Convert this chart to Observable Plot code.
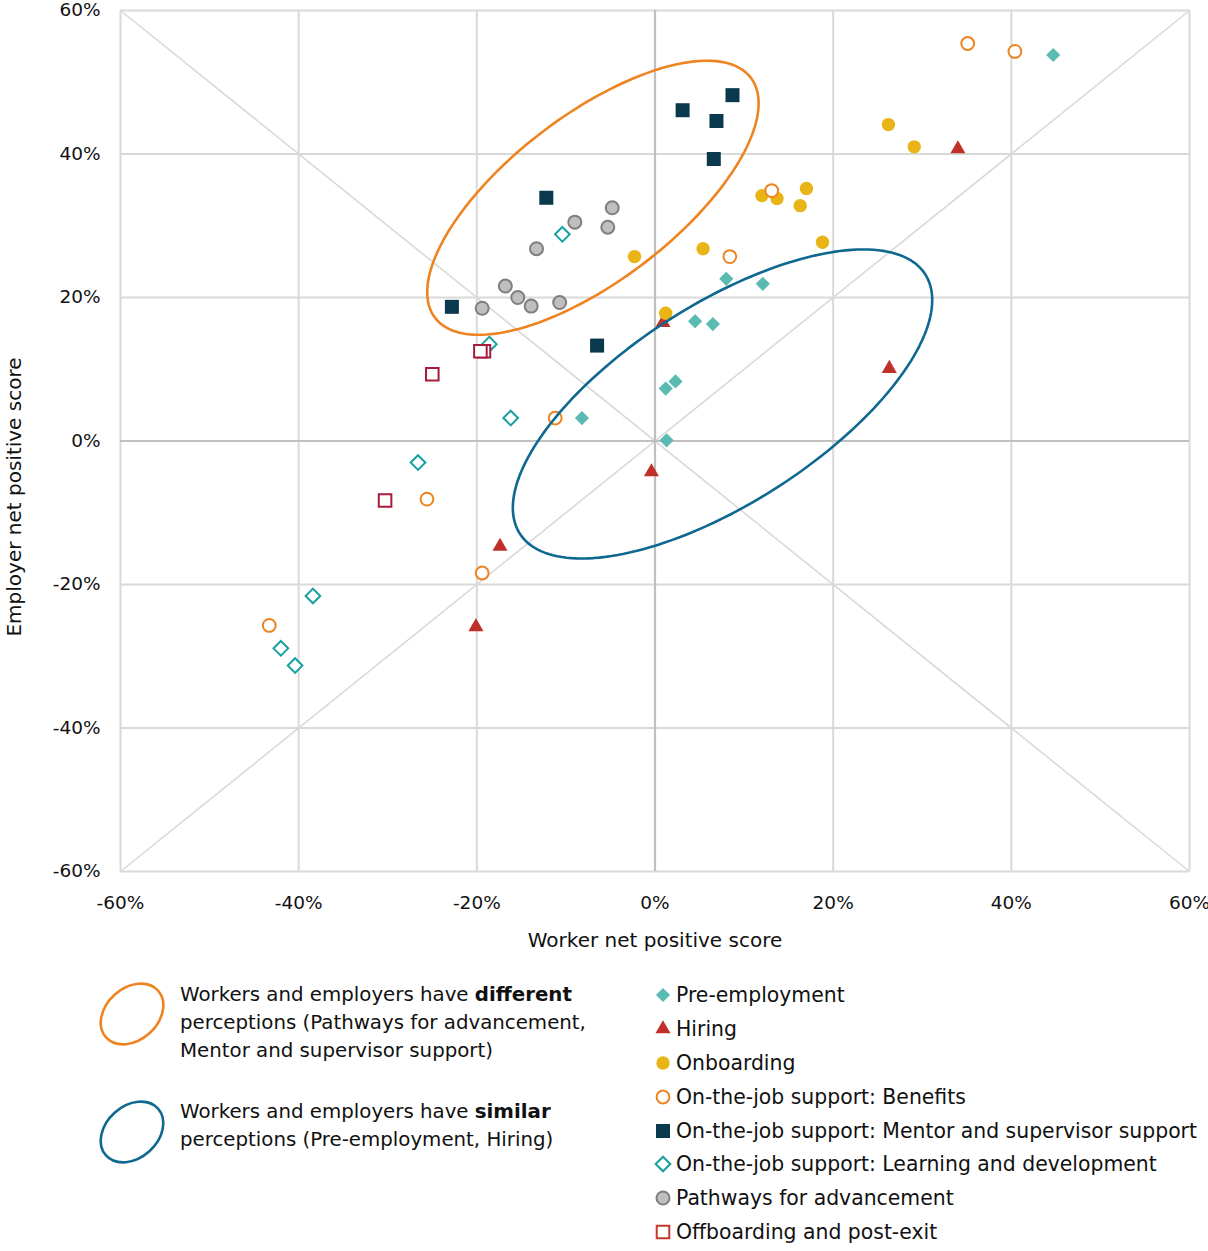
<!DOCTYPE html>
<html>
<head>
<meta charset="utf-8">
<script src="https://cdn.jsdelivr.net/npm/d3@7"></script>
<script src="https://cdn.jsdelivr.net/npm/@observablehq/plot@0.6"></script>
<style>
  html, body { margin: 0; padding: 0; background: #fff; }
  #wrap { position: relative; width: 1208px; height: 1251px; overflow: hidden; font-family: "DejaVu Sans", sans-serif; color: #111; }
  #chart { position: absolute; left: 0; top: 0; }
  .ltext { position: absolute; font-size: 19.8px; line-height: 28px; white-space: nowrap; }
  .row { position: absolute; left: 676px; font-size: 20.4px; height: 34px; line-height: 34px; white-space: nowrap; }
  .icon { position: absolute; overflow: visible; }
</style>
</head>
<body>
<div id="wrap">
  <div id="chart"></div>
  <div id="legend"></div>
</div>
<script>
// ---- Data (worker net positive %, employer net positive %) ----
const preEmployment = [[44.7,53.8],[8.0,22.6],[12.1,21.9],[4.5,16.7],[6.5,16.3],[2.3,8.3],[1.2,7.3],[1.3,0.1],[-8.2,3.2]];
const hiring        = [[34.0,40.7],[26.3,10.1],[0.9,16.5],[-0.4,-4.3],[-17.4,-14.7],[-20.1,-25.9]];
const onboarding    = [[26.2,44.1],[29.1,41.0],[12.0,34.2],[13.7,33.8],[17.0,35.2],[16.3,32.8],[18.8,27.7],[5.4,26.8],[-2.3,25.7],[1.2,17.8]];
const benefits      = [[35.1,55.4],[40.4,54.3],[13.1,34.9],[8.4,25.7],[-11.2,3.2],[-25.6,-8.1],[-19.4,-18.4],[-43.3,-25.7]];
const mentor        = [[8.7,48.2],[3.1,46.1],[6.9,44.6],[6.6,39.3],[-12.2,33.9],[-22.8,18.7],[-6.5,13.3]];
const learning      = [[-10.4,28.8],[-18.6,13.5],[-16.2,3.2],[-26.6,-3.0],[-38.4,-21.6],[-42.0,-28.9],[-40.4,-31.3]];
const pathways      = [[-4.8,32.5],[-9.0,30.5],[-5.3,29.8],[-13.3,26.8],[-16.8,21.6],[-15.4,20.0],[-13.9,18.8],[-10.7,19.3],[-19.4,18.5]];
const offboarding   = [[-19.2,12.5],[-19.6,12.5],[-25.0,9.3],[-30.3,-8.3]];

const categories = [
  "Pre-employment", "Hiring", "Onboarding", "On-the-job support: Benefits",
  "On-the-job support: Mentor and supervisor support",
  "On-the-job support: Learning and development",
  "Pathways for advancement", "Offboarding and post-exit"
];
const seriesValues = [preEmployment, hiring, onboarding, benefits, mentor, learning, pathways, offboarding];

const xTicks = [-60, -40, -20, 0, 20, 40, 60];
const yTicks = [-60, -40, -20, 0, 20, 40, 60];
const tickLabel = d => `${d}%`;
const xLabel = "Worker net positive score";
const yLabel = "Employer net positive score";

// Annotation ellipses (centre and affine axes, in data units)
const ellipseDifferent = {cx: -6.97, cy: 33.9, a: 18.6, b: 13.15, c: 13.85};
const ellipseSimilar   = {cx: 7.58, cy: 5.16, a: 23.54, b: 14.47, c: 15.95};

// ---- Styles ----
const styles = [
  {symbol: "diamond2", fill: "#5BBAB1", stroke: "none", sw: 0, r: 6.4},
  {symbol: "triangle", fill: "#C0302A", stroke: "none", sw: 0, r: 5.6},
  {symbol: "circle",   fill: "#E9B416", stroke: "none", sw: 0, r: 6.7},
  {symbol: "circle",   fill: "#ffffff", stroke: "#EE8421", sw: 2, r: 6.4},
  {symbol: "square",   fill: "#0A384C", stroke: "none", sw: 0, r: 7.9},
  {symbol: "diamond2", fill: "#ffffff", stroke: "#17A0A0", sw: 2, r: 6.6},
  {symbol: "circle",   fill: "#BFBFBF", stroke: "#7F7F7F", sw: 2, r: 6.5},
  {symbol: "square",   fill: "#ffffff", stroke: "#A81C3B", sw: 2, r: 7.1, legendStroke: "#C23A2C"}
];

const domain = [xTicks[0], xTicks[xTicks.length - 1]];
const diagonals = [
  {x1: domain[0], y1: domain[0], x2: domain[1], y2: domain[1]},
  {x1: domain[0], y1: domain[1], x2: domain[1], y2: domain[0]}
];

function ellipsePoints(e) {
  return d3.range(0, 2 * Math.PI, Math.PI / 90).map(t => ({
    x: e.cx + e.a * Math.cos(t),
    y: e.cy + e.b * Math.cos(t) + e.c * Math.sin(t)
  }));
}

const dotMarks = seriesValues.map((vals, i) => {
  const s = styles[i];
  return Plot.dot(vals, {
    x: d => d[0], y: d => d[1],
    symbol: s.symbol, r: s.r, fill: s.fill,
    stroke: s.stroke, strokeWidth: s.sw
  });
});

const chart = Plot.plot({
  width: 1208, height: 960,
  marginLeft: 120, marginRight: 19, marginTop: 10, marginBottom: 89,
  x: {domain, ticks: xTicks, tickFormat: tickLabel, tickSize: 0, tickPadding: 24, label: null},
  y: {domain, ticks: yTicks, tickFormat: tickLabel, tickSize: 0, tickPadding: 20, label: null},
  style: {fontFamily: "DejaVu Sans", fontSize: "18.5px", color: "#111", background: "#fff", overflow: "visible"},
  marks: [
    Plot.ruleX(xTicks.filter(d => d !== 0), {stroke: "#d9d9d9", strokeWidth: 2}),
    Plot.ruleY(yTicks.filter(d => d !== 0), {stroke: "#d9d9d9", strokeWidth: 2}),
    Plot.link(diagonals, {x1: "x1", y1: "y1", x2: "x2", y2: "y2", stroke: "#d9d9d9", strokeWidth: 1.6}),
    Plot.ruleX([0], {stroke: "#c0c0c0", strokeWidth: 2.2}),
    Plot.ruleY([0], {stroke: "#c0c0c0", strokeWidth: 2.2}),
    ...dotMarks,
    Plot.line(ellipsePoints(ellipseDifferent), {x: "x", y: "y", curve: "linear-closed", stroke: "#EE8421", strokeWidth: 2.6}),
    Plot.line(ellipsePoints(ellipseSimilar), {x: "x", y: "y", curve: "linear-closed", stroke: "#0E6890", strokeWidth: 2.6}),
    Plot.text([xLabel], {text: d => d, frameAnchor: "bottom", dy: 69, fontSize: 20, textAnchor: "middle", lineAnchor: "middle", fill: "#111"}),
    Plot.text([yLabel], {text: d => d, frameAnchor: "left", dx: -106, dy: 56, rotate: -90, fontSize: 20, textAnchor: "middle", lineAnchor: "middle", fill: "#111"})
  ]
});
document.getElementById("chart").appendChild(chart);

// ---- Legend ----
const legend = document.getElementById("legend");
const symMap = {diamond2: d3.symbolDiamond2, triangle: d3.symbolTriangle, circle: d3.symbolCircle, square: d3.symbolSquare};

function svgEl(w, h, left, top) {
  return d3.create("svg").attr("class", "icon").attr("width", w).attr("height", h)
    .style("left", left + "px").style("top", top + "px");
}

// Ellipse keys (left)
const ellipseKeys = [
  {stroke: "#EE8421", cy: 1013.5, lines: ["Workers and employers have <b>different</b>", "perceptions (Pathways for advancement,", "Mentor and supervisor support)"], textTop: 981},
  {stroke: "#0E6890", cy: 1131.5, lines: ["Workers and employers have <b>similar</b>", "perceptions (Pre-employment, Hiring)"], textTop: 1098}
];
ellipseKeys.forEach(k => {
  const svg = svgEl(80, 80, 92, k.cy - 40);
  svg.append("ellipse").attr("cx", 40).attr("cy", 40).attr("rx", 35).attr("ry", 26)
    .attr("transform", "rotate(-42 40 40)")
    .attr("fill", "none").attr("stroke", k.stroke).attr("stroke-width", 2.6);
  legend.appendChild(svg.node());
  const div = document.createElement("div");
  div.className = "ltext";
  div.style.left = "180px";
  div.style.top = k.textTop + "px";
  div.innerHTML = k.lines.join("<br>");
  legend.appendChild(div);
});

// Series keys (right)
categories.forEach((name, i) => {
  const s = styles[i];
  const cy = 995.3 + i * 33.8;
  const svg = svgEl(24, 24, 663 - 12, cy - 12);
  svg.append("path")
    .attr("transform", "translate(12,12)")
    .attr("d", d3.symbol(symMap[s.symbol], s.r * s.r * Math.PI)())
    .attr("fill", s.fill)
    .attr("stroke", s.legendStroke || s.stroke)
    .attr("stroke-width", s.sw);
  legend.appendChild(svg.node());
  const div = document.createElement("div");
  div.className = "row";
  div.style.top = (cy - 17) + "px";
  div.textContent = name;
  legend.appendChild(div);
});
</script>
</body>
</html>
